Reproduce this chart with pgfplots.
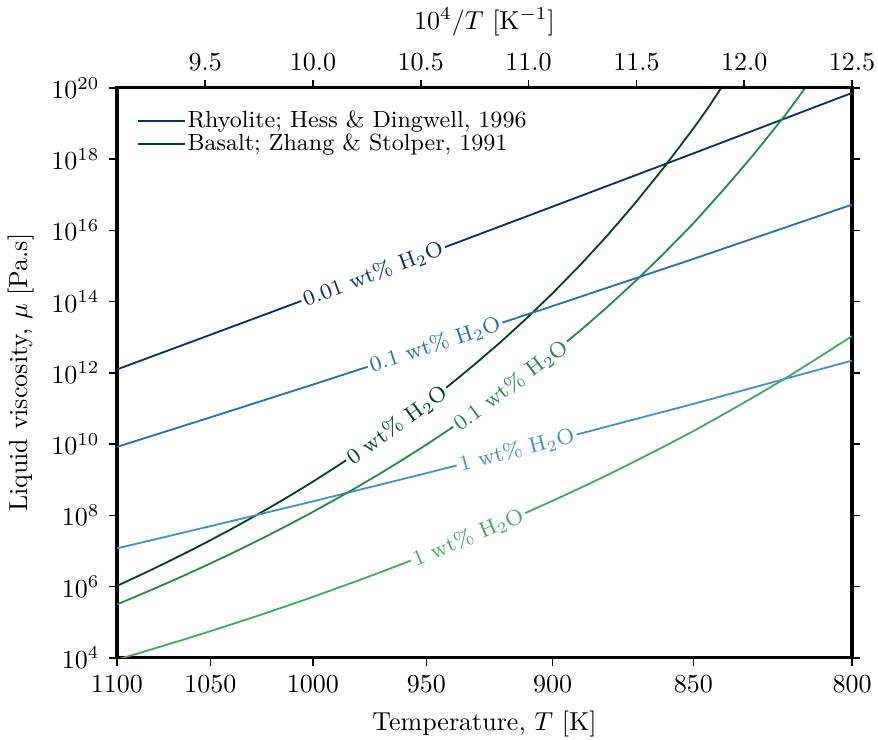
\documentclass[border=0pt]{standalone}
\usepackage{pgfplots}
\pgfplotsset{compat=1.18}
\usepackage{pgfplotstable}

\definecolor{rhyA}{HTML}{08306B}
\definecolor{rhyB}{HTML}{2171B5}
\definecolor{rhyC}{HTML}{4292C6}
\definecolor{basA}{HTML}{00441B}
\definecolor{basB}{HTML}{238B45}
\definecolor{basC}{HTML}{41AB5D}

% Rhyolite (Hess & Dingwell, 1996): T [K], log10 viscosity [Pa.s]
\pgfplotstableread{
T L
1100 12.096
1050 13.067
1000 14.140
950 15.332
900 16.664
850 18.162
800 19.858
}\rhyoA
\pgfplotstableread{
T L
1100 9.920
1050 10.749
1000 11.671
950 12.705
900 13.872
850 15.199
800 16.722
}\rhyoB
\pgfplotstableread{
T L
1100 7.072
1050 7.694
1000 8.392
950 9.183
900 10.087
850 11.129
800 12.343
}\rhyoC

% Basalt (Zhang & Stolper, 1991): T [K], log10 viscosity [Pa.s]
\pgfplotstableread{
T L
1100 6.020
1090 6.253
1080 6.496
1070 6.751
1060 7.018
1050 7.299
1040 7.595
1030 7.906
1020 8.233
1010 8.580
1000 8.946
990 9.333
980 9.744
970 10.182
960 10.647
950 11.144
940 11.675
930 12.244
920 12.856
910 13.515
900 14.227
890 14.999
880 15.839
870 16.756
860 17.760
850 18.866
845 19.461
840 20.089
830 21.450
}\basA
\pgfplotstableread{
T L
1100 5.500
1090 5.710
1080 5.929
1070 6.158
1060 6.397
1050 6.648
1040 6.910
1030 7.185
1020 7.474
1010 7.777
1000 8.097
990 8.434
980 8.789
970 9.164
960 9.562
950 9.983
940 10.431
930 10.907
920 11.416
910 11.959
900 12.540
890 13.164
880 13.837
870 14.562
860 15.348
850 16.202
840 17.132
830 18.151
820 19.271
810 20.508
800 21.882
}\basB
\pgfplotstableread{
T L
1100 3.949
1090 4.097
1080 4.251
1070 4.410
1060 4.575
1050 4.747
1040 4.925
1030 5.110
1020 5.302
1010 5.502
1000 5.711
990 5.929
980 6.156
970 6.393
960 6.641
950 6.901
940 7.173
930 7.458
920 7.758
910 8.073
900 8.404
890 8.754
880 9.123
870 9.514
860 9.927
850 10.366
840 10.832
830 11.329
820 11.859
810 12.425
800 13.032
}\basC

\pgfplotsset{
  frame/.style={
    scale only axis, width=282.7pt, height=219.2pt,
    xmin=9.0909, xmax=12.5,
    tick align=outside,
    major tick length=3.2pt,
    every tick/.style={black, line width=0.6pt},
    axis line style={line width=1.2pt},
    tick label style={font=\normalsize},
    label style={font=\normalsize},
  },
  curve/.style={line width=0.7pt, #1},
}
\tikzset{lbl/.style={fill=white, inner sep=1pt, font=\fontsize{8.4}{10}\selectfont, text=#1}}

\begin{document}
\begin{tikzpicture}
\begin{axis}[
  frame,
  ymode=log, ymin=1e4, ymax=1e20,
  xtick={9.0909,9.5238,10,10.5263,11.1111,11.7647,12.5},
  xticklabels={1100,1050,1000,950,900,850,800},
  xtick pos=bottom, ytick pos=both,
  ytick={1e4,1e6,1e8,1e10,1e12,1e14,1e16,1e18,1e20},
  yminorticks=false,
  xlabel={Temperature, $T$ [K]},
  ylabel={Liquid viscosity, $\mu$ [Pa.s]},
  legend style={draw=none, fill=none, at={(0.027,0.963)}, anchor=north west,
    font=\small, inner sep=0pt, row sep=-0.5pt,
    nodes={inner sep=0.6pt}},
  legend cell align=left,
  legend image code/.code={\draw[#1] (0pt,0pt) -- (18pt,0pt);},
]
\addplot[curve=rhyA] table[x expr=1e4/\thisrow{T}, y expr=10^(\thisrow{L})] {\rhyoA};
\addlegendentry{Rhyolite; Hess \& Dingwell, 1996}
\addplot[curve=basA] table[x expr=1e4/\thisrow{T}, y expr=10^(\thisrow{L})] {\basA};
\addlegendentry{Basalt; Zhang \& Stolper, 1991}
\addplot[curve=rhyB, forget plot] table[x expr=1e4/\thisrow{T}, y expr=10^(\thisrow{L})] {\rhyoB};
\addplot[curve=rhyC, forget plot] table[x expr=1e4/\thisrow{T}, y expr=10^(\thisrow{L})] {\rhyoC};
\addplot[curve=basB, forget plot] table[x expr=1e4/\thisrow{T}, y expr=10^(\thisrow{L})] {\basB};
\addplot[curve=basC, forget plot] table[x expr=1e4/\thisrow{T}, y expr=10^(\thisrow{L})] {\basC};

% inline labels set on the curves
\node[lbl=rhyA, rotate=20.5] at (axis cs:10.279,5.888e14) {0.01 wt\% H$_2$O};
\node[lbl=rhyB, rotate=18.1] at (axis cs:10.5665,6.095e12) {0.1 wt\% H$_2$O};
\node[lbl=rhyC, rotate=14.4] at (axis cs:10.945,6.714e9) {1 wt\% H$_2$O};
\node[lbl=basA, rotate=35.9] at (axis cs:10.390,3.373e10) {0 wt\% H$_2$O};
\node[lbl=basB, rotate=36.8] at (axis cs:10.919,4.355e11) {0.1 wt\% H$_2$O};
\node[lbl=basC, rotate=22.5] at (axis cs:10.7195,2.366e7) {1 wt\% H$_2$O};
\end{axis}

\begin{axis}[
  frame,
  ymin=0, ymax=1,
  axis x line*=top, axis y line=none,
  xtick={9.5,10,10.5,11,11.5,12,12.5},
  xticklabel style={/pgf/number format/.cd, fixed, fixed zerofill, precision=1},
  xlabel={$10^4/T$ [K$^{-1}$]},
]
\end{axis}
\pgfresetboundingbox
\path[use as bounding box] (-45pt,-31.5pt) rectangle (292.7pt,253pt);
\end{tikzpicture}
\end{document}
